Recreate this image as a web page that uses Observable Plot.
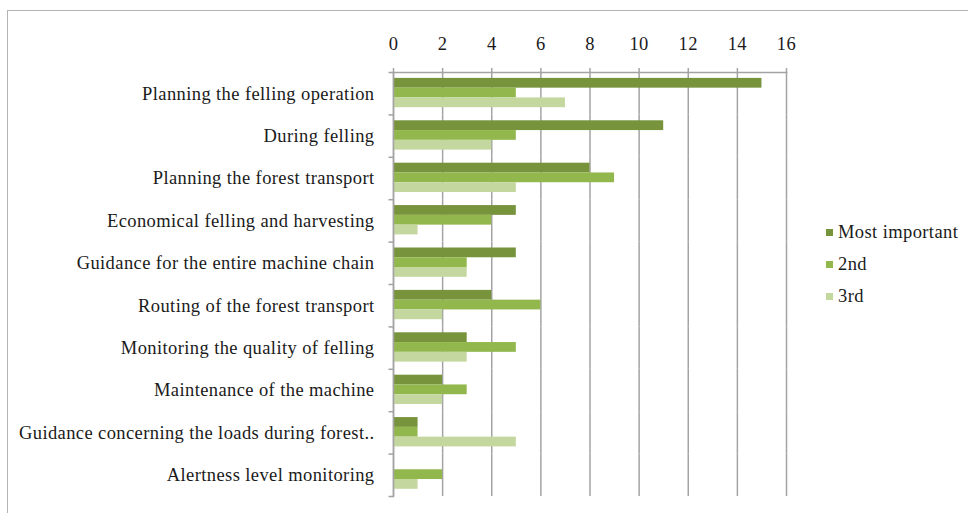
<!DOCTYPE html>
<html>
<head>
<meta charset="utf-8">
<script src="https://cdn.jsdelivr.net/npm/d3@7"></script>
<script src="https://cdn.jsdelivr.net/npm/@observablehq/plot@0.6"></script>
<style>
  html, body { margin: 0; padding: 0; background: #fff; overflow: hidden; }
  #wrap { position: relative; width: 968px; height: 513px; overflow: hidden; font-family: "Liberation Serif", serif; }
  #border { position: absolute; left: 7px; top: 10px; width: 1000px; height: 600px; border: 1.5px solid #b4b4b4; box-sizing: border-box; }
  #chart { position: absolute; left: 0; top: 0; }
  #legend { position: absolute; left: 826px; top: 216px; font-size: 18.5px; letter-spacing: 0.4px; color: #1a1a1a; line-height: 32px; }
  #legend .item { display: flex; align-items: center; white-space: nowrap; }
  #legend .sw { width: 7px; height: 7px; margin-right: 5px; }
</style>
</head>
<body>
<div id="wrap">
  <div id="border"></div>
  <div id="chart"></div>
  <div id="legend"></div>
</div>
<script>
// Survey: which task the system should support (number of answers)
const categories = [
  "Planning the felling operation",
  "During felling",
  "Planning the forest transport",
  "Economical felling and harvesting",
  "Guidance for the entire machine chain",
  "Routing of the forest transport",
  "Monitoring the quality of felling",
  "Maintenance of the machine",
  "Guidance concerning the loads during forest..",
  "Alertness level monitoring"
];
const series = ["Most important", "2nd", "3rd"];
const mostImportant = [15, 11, 8, 5, 5, 4, 3, 2, 1, 0];
const second        = [5, 5, 9, 4, 3, 6, 5, 3, 1, 2];
const third         = [7, 4, 5, 1, 3, 2, 3, 2, 5, 1];
const xTicks = [0, 2, 4, 6, 8, 10, 12, 14, 16];
const colors = ["#77933c", "#92b74c", "#c4d79e"];

const values = [mostImportant, second, third];
const rows = categories.flatMap((c, i) =>
  series.map((s, j) => ({category: c, series: s, value: values[j][i]}))
);

const gridColor = "#a3a3a3";
// short horizontal tick pointing left from the value axis
const leftTick = {draw(context) { context.moveTo(0, 0); context.lineTo(-5, 0); }};

const chart = Plot.plot({
  width: 968,
  height: 513,
  marginLeft: 393,
  marginRight: 182,
  marginTop: 72,
  marginBottom: 17,
  style: {fontFamily: "Liberation Serif, serif", fontSize: "18.5px", color: "#1a1a1a", background: "transparent", letterSpacing: "0.4px"},
  x: {domain: [0, 16], axis: null},
  y: {domain: series, axis: null, paddingInner: 0, paddingOuter: 0.67, align: 0.45, round: false},
  fy: {domain: categories, padding: 0, axis: null, round: false},
  color: {domain: series, range: colors},
  marks: [
    Plot.gridX(xTicks, {stroke: gridColor, strokeOpacity: 1, strokeWidth: 1.5}),
    Plot.barX(rows, {fy: "category", y: "series", x: "value", fill: "series"}),
    Plot.frame({anchor: "top", facet: "super", stroke: gridColor, strokeWidth: 1.5}),
    Plot.frame({anchor: "left", facet: "super", stroke: gridColor, strokeWidth: 1.5}),
    Plot.dot(categories, {fy: d => d, frameAnchor: "top-left", symbol: leftTick, stroke: gridColor, strokeWidth: 1.5}),
    Plot.dot(categories.slice(-1), {fy: d => d, frameAnchor: "bottom-left", symbol: leftTick, stroke: gridColor, strokeWidth: 1.5}),
    Plot.axisX(xTicks, {anchor: "top", label: null, tickSize: 5, tickPadding: 18, stroke: gridColor, strokeWidth: 1.5, fontSize: 18.5, fill: "#1a1a1a"}),
    Plot.axisFy({anchor: "left", label: null, tickSize: 0, tickPadding: 19, fontSize: 18.5, fill: "#1a1a1a"})
  ]
});
document.getElementById("chart").append(chart);

const legend = document.getElementById("legend");
series.forEach((s, i) => {
  const item = document.createElement("div");
  item.className = "item";
  const sw = document.createElement("span");
  sw.className = "sw";
  sw.style.background = colors[i];
  item.append(sw, document.createTextNode(s));
  legend.append(item);
});
</script>
</body>
</html>
